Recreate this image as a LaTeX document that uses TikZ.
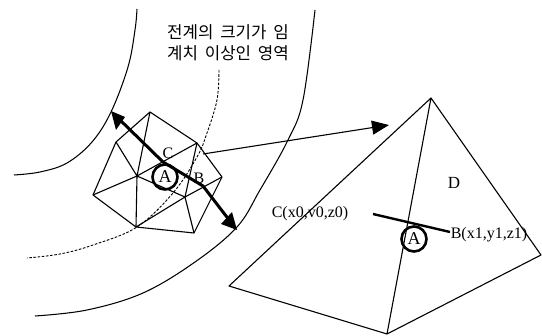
\documentclass[tikz,border=0pt]{standalone}
\usepackage{fontspec}
\setmainfont{Liberation Serif}
\newfontfamily\krfont{Noto Sans CJK KR}
\usetikzlibrary{arrows.meta}
\tikzset{
  wire/.style={line width=1.1pt,line join=round},
  field/.style={line width=1.05pt},
  fielddash/.style={line width=0.9pt,dash pattern=on 2.6pt off 1.6pt},
  bigarrow/.style={line width=3pt,line join=round},
  thinarrow/.style={line width=1.1pt,-{Triangle[length=17pt,width=14pt]}},
  lbl/.style={inner sep=0pt,font=\fontsize{16}{18}\selectfont},
  kr/.style={inner sep=0pt,font=\krfont\fontsize{16.8}{18}\selectfont},
  ring/.style={circle,draw,line width=2.6pt,fill=none,inner sep=0pt,minimum size=25pt,font=\fontsize{18}{18}\selectfont}
}
\begin{document}
\begin{tikzpicture}[x=1pt,y=-1pt]
\useasboundingbox (0,0) rectangle (542,336);
% field boundaries
\draw[field] plot[smooth,tension=0.6] coordinates {(137,9) (135,30) (128,67) (111,112) (92,142) (67,163) (40,172) (14,175)};
\draw[field] plot[smooth,tension=0.6] coordinates {(315,10) (303,100) (288,140) (260,190) (237,227) (195,262) (143,293) (87,310) (35,316)};
\draw[fielddash] plot[smooth,tension=0.6] coordinates {(219,70) (217,100) (207,133) (197,157) (173,193) (137,227) (93,245) (60,254) (27,258)};
% mesh
\coordinate (mT) at (150,112);
\coordinate (mUL) at (116,142);
\coordinate (mL) at (93,195);
\coordinate (mB) at (136,227);
\coordinate (mBR) at (194,233);
\coordinate (mR) at (222,177);
\coordinate (mUR) at (197,143);
\coordinate (mC) at (137,176);
\coordinate (mD) at (185,197);
\draw[wire] (mT)--(mUL)--(mL)--(mB)--(mBR)--(mR)--(mUR)--cycle;
\draw[wire] (mC)--(mT) (mC)--(mUL) (mC)--(mL) (mC)--(mB) (mC)--(mUR) (mC)--(mD);
\draw[wire] (mD)--(mB) (mD)--(mBR) (mD)--(mR) (mD)--(mUR);
% pyramid
\coordinate (pA) at (431,98);
\coordinate (pL) at (229,286);
\coordinate (pB) at (387,334);
\coordinate (pR) at (541,255);
\draw[wire] (pA)--(pL)--(pB)--(pR)--cycle (pA)--(pB);
% arrows
\coordinate (s1) at (111,111);
\coordinate (sa) at (163,162);
\coordinate (s2) at (203,186);
\coordinate (s3) at (237,230);
\draw[bigarrow] (119,119)--(sa)--(s2)--(228,218.5);
\fill (s1)--(125,117)--(116,130)--cycle;
\fill (s3)--(221,224)--(232,212)--cycle;
\coordinate (t1) at (203,154);
\coordinate (t2) at (389,125);
\draw[thinarrow] (t1)--(t2);
\coordinate (q1) at (373,214);
\coordinate (q2) at (450,232);
\draw[line width=2.4pt] (q1)--(q2);
% circled A
\node[ring] (a1) at (165,177) {A};
\node[ring] (a2) at (414,239) {A};
% labels
\node[lbl] (c) at (168,153) {C};
\node[lbl] (b) at (199,178) {B};
\node[lbl,font=\fontsize{17}{18}\selectfont] (d) at (454,183) {D};
\node[lbl] (c2) at (310,214) {C(x0,v0,z0)};
\node[lbl] (b2) at (489,235) {B(x1,y1,z1)};
\node[kr] (k1) at (228,32) {전계의\hspace{3pt} 크기가\hspace{3pt} 임};
\node[kr] (k2) at (228,53) {계치\hspace{3pt} 이상인\hspace{3pt} 영역};
\end{tikzpicture}
\end{document}
